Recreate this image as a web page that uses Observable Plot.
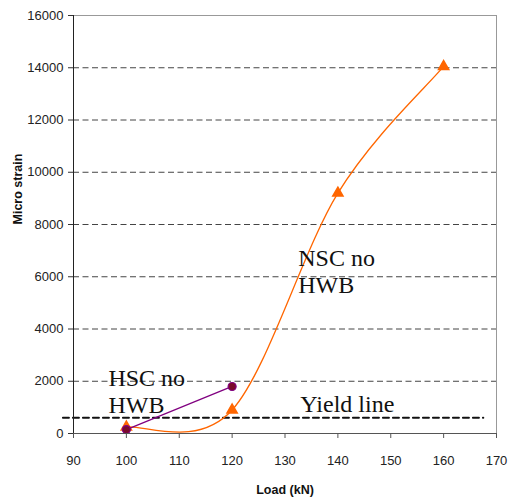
<!DOCTYPE html>
<html><head><meta charset="utf-8">
<script src="https://cdn.jsdelivr.net/npm/d3@7"></script>
<script src="https://cdn.jsdelivr.net/npm/@observablehq/plot@0.6"></script>
<style>body{margin:0;background:#fff} svg{display:block}</style>
</head><body><div id="chart"></div>
<script>
// Data
const nscLoad = [100, 120, 140, 160];
const nscStrain = [250, 900, 9200, 14050];
const hscLoad = [100, 120];
const hscStrain = [150, 1800];
const yieldLoad = [88, 167.5];
const yieldStrain = [600, 600];
const gridValues = [2000, 4000, 6000, 8000, 10000, 12000, 14000];
const yTicks = [0, 2000, 4000, 6000, 8000, 10000, 12000, 14000, 16000];
const xTicks = [90, 100, 110, 120, 130, 140, 150, 160, 170];
const annLabels = ["HSC no\nHWB", "NSC no\nHWB", "Yield line"];
const annLoad = [96.6, 132.5, 132.9];
const annStrain = [766, 5359, 804];

const nsc = nscLoad.map((x, i) => ({x, y: nscStrain[i]}));
const hsc = hscLoad.map((x, i) => ({x, y: hscStrain[i]}));
const yld = yieldLoad.map((x, i) => ({x, y: yieldStrain[i]}));
const ann = annLabels.map((t, i) => ({t, x: annLoad[i], y: annStrain[i]}));

// Spreadsheet-style smoothed line (Bezier, 1/6 tangents, ends use the end point itself)
function smoothCurve(context) {
  let pts;
  return {
    areaStart() {}, areaEnd() {},
    lineStart() { pts = []; },
    point(x, y) { pts.push([+x, +y]); },
    lineEnd() {
      const n = pts.length;
      if (!n) return;
      context.moveTo(pts[0][0], pts[0][1]);
      for (let i = 0; i < n - 1; i++) {
        const p0 = pts[Math.max(i - 1, 0)], p1 = pts[i], p2 = pts[i + 1], p3 = pts[Math.min(i + 2, n - 1)];
        context.bezierCurveTo(
          p1[0] + (p2[0] - p0[0]) / 6, p1[1] + (p2[1] - p0[1]) / 6,
          p2[0] - (p3[0] - p1[0]) / 6, p2[1] - (p3[1] - p1[1]) / 6,
          p2[0], p2[1]);
      }
    }
  };
}

const tickFont = "'Liberation Sans', Arial, sans-serif";
const chart = Plot.plot({
  width: 508, height: 500,
  marginLeft: 73, marginRight: 12, marginTop: 15, marginBottom: 67,
  x: {domain: [90, 170], axis: null},
  y: {domain: [0, 16000], axis: null},
  style: {fontFamily: tickFont, fontSize: "13px", color: "#222", background: "#fff"},
  marks: [
    Plot.ruleY(gridValues, {stroke: "#444", strokeWidth: 1, strokeDasharray: "6,3.5"}),
    Plot.ruleY([16000], {stroke: "#999", strokeWidth: 1}),
    Plot.ruleX([170], {stroke: "#999", strokeWidth: 1}),
    Plot.line(yld, {x: "x", y: "y", stroke: "#111", strokeWidth: 2, strokeDasharray: "6,4"}),
    Plot.line(nsc, {x: "x", y: "y", curve: smoothCurve, stroke: "#FF6600", strokeWidth: 1.3}),
    Plot.dot(nsc, {x: "x", y: "y", symbol: "triangle", r: 3.8, fill: "#FF6600", stroke: "#FF6600"}),
    Plot.line(hsc, {x: "x", y: "y", stroke: "#800080", strokeWidth: 1.3}),
    Plot.dot(hsc, {x: "x", y: "y", r: 4, fill: "#7A0A2A", stroke: "#800080", strokeWidth: 1.2}),
    Plot.ruleX([90], {stroke: "#222", strokeWidth: 1}),
    Plot.ruleY([0], {stroke: "#555", strokeWidth: 1.2}),
    Plot.axisY(yTicks, {tickSize: 5, tickPadding: 5, tickFormat: d => String(d), label: null, stroke: "#333", fontSize: 13}),
    Plot.axisX(xTicks, {tickSize: 5, tickPadding: 17, tickFormat: d => String(d), label: null, stroke: "#555", fontSize: 13}),
    Plot.text(ann, {x: "x", y: "y", text: "t", textAnchor: "start", lineAnchor: "bottom",
      fontFamily: "'Liberation Serif', 'Times New Roman', serif", fontSize: 24, lineHeight: 1.15, fill: "#111"}),
    Plot.text(["Load (kN)"], {text: d => d, frameAnchor: "bottom", lineAnchor: "bottom", dy: 60,
      fontFamily: "'Liberation Sans', Arial, sans-serif", fontWeight: "bold", fontSize: 12.5, fill: "#111"}),
    Plot.text(["Micro strain"], {text: d => d, frameAnchor: "left", rotate: -90, dx: -56,
      fontFamily: "'Liberation Sans', Arial, sans-serif", fontWeight: "bold", fontSize: 12.5, fill: "#111",
      letterSpacing: "2.2px"})
  ]
});
document.getElementById("chart").appendChild(chart);
</script>
</body></html>
